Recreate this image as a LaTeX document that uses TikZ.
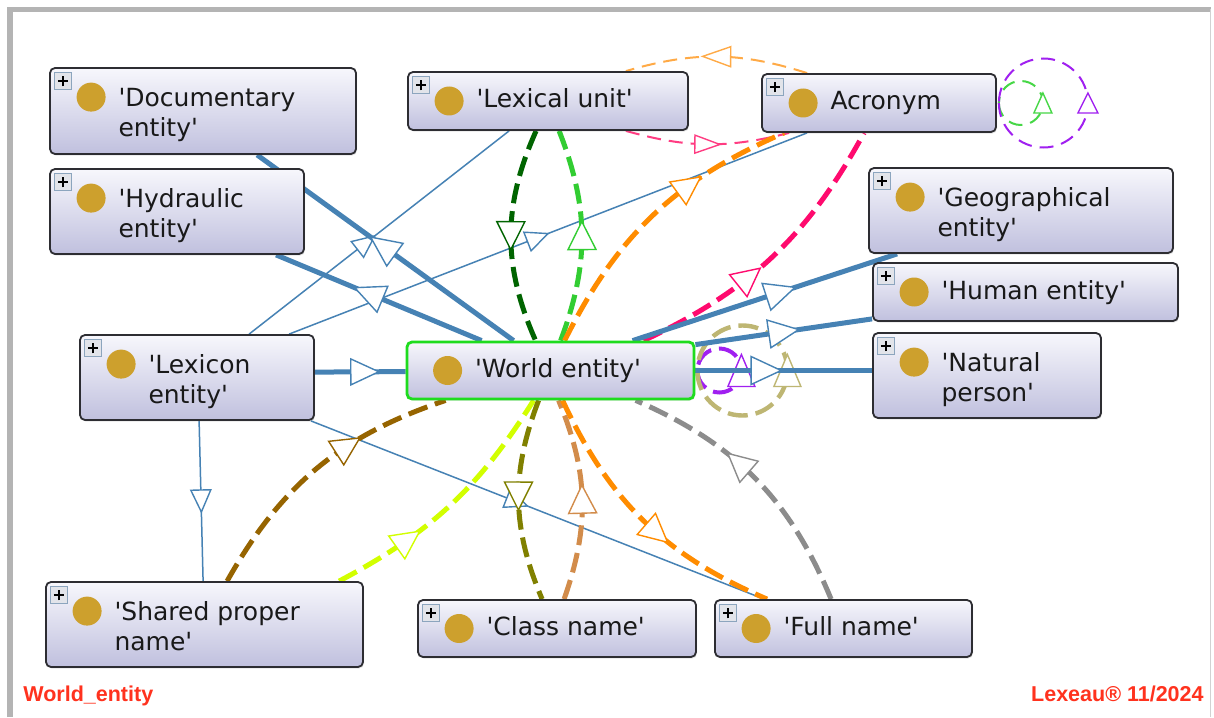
\documentclass[tikz,border=0pt]{standalone}
\usepackage{fontspec}
\setmainfont{DejaVu Sans}
\newfontfamily\arialfont{Liberation Sans}
\usetikzlibrary{calc,fit,shadows,decorations.markings}
\pgfdeclarelayer{back}
\pgfdeclarelayer{bg}
\pgfsetlayers{back,bg,main}

\definecolor{sblue}{RGB}{70,130,180}
\definecolor{boxtop}{RGB}{247,247,252}
\definecolor{boxbot}{RGB}{192,192,222}
\definecolor{boxline}{RGB}{45,45,50}
\definecolor{dotgold}{RGB}{205,160,45}
\definecolor{dkgreen}{RGB}{0,100,0}
\definecolor{ltgreen}{RGB}{50,205,50}
\definecolor{orng}{RGB}{255,140,0}
\definecolor{dpink}{RGB}{255,10,110}
\definecolor{lorng}{RGB}{255,170,70}
\definecolor{lpink}{RGB}{255,60,130}
\definecolor{lgreen}{RGB}{70,215,70}
\definecolor{purp}{RGB}{160,32,240}
\definecolor{khak}{RGB}{190,182,115}
\definecolor{brwn}{RGB}{150,100,0}
\definecolor{ygreen}{RGB}{210,255,0}
\definecolor{olv}{RGB}{128,128,0}
\definecolor{tann}{RGB}{210,140,75}
\definecolor{gry}{RGB}{140,140,140}
\definecolor{redlbl}{RGB}{255,50,30}
\definecolor{framegray}{RGB}{180,180,180}
\definecolor{focusgreen}{RGB}{30,220,30}
\definecolor{txt}{RGB}{25,25,25}

\newcommand\q{\textquotesingle}

\tikzset{
  clsbox/.style={draw=boxline, line width=0.9pt, rounded corners=2.5pt,
    top color=boxtop, bottom color=boxbot, inner sep=0pt,
    drop shadow={opacity=0.2, shadow xshift=0.5pt, shadow yshift=-0.8pt}},
  focusbox/.style={clsbox, draw=focusgreen, line width=1.4pt},
  plusicon/.style={draw={rgb,255:red,140;green,165;blue,190}, line width=0.5pt,
    fill={rgb,255:red,226;green,228;blue,234}, minimum size=8.5pt, inner sep=0pt,
    path picture={\draw[black, line width=0.8pt]
      ([xshift=-2.6pt]path picture bounding box.center) -- ([xshift=2.6pt]path picture bounding box.center)
      ([yshift=-2.6pt]path picture bounding box.center) -- ([yshift=2.6pt]path picture bounding box.center);}},
  dot/.style={circle, fill=dotgold, minimum size=14.5pt, inner sep=0pt},
  lbl/.style={anchor=base west, inner sep=0pt, text=txt, font=\fontsize{12.5pt}{15pt}\selectfont},
  tri/.style n args={4}{postaction={decorate, decoration={markings,
    mark=at position #1 with {\draw[solid, line width=0.7pt, fill=white, draw=#4, line join=miter]
      (-#2/2,-#3/2) -- (#2/2,0) -- (-#2/2,#3/2) -- cycle;}}}},
  thickisa/.style={draw=sblue, line width=2.5pt},
  thinisa/.style={draw=sblue, line width=0.75pt},
  prop/.style={draw=#1, line width=2.5pt, dash pattern=on 10pt off 4pt},
  thinprop/.style={draw=#1, line width=1pt, dash pattern=on 7pt off 4pt},
  redtag/.style={inner sep=0pt, text=redlbl, font=\arialfont\bfseries\fontsize{10.75pt}{12pt}\selectfont}
}

\newcommand\clsone[6]{%
  \node[clsbox, fit={(#2,#3)(#4,#5)}] (#1) {};
  \node[plusicon] (#1-p) at ($(#1.north west)+(14,14)$) {};
  \node[dot] (#1-d) at ($(#1.west)+(42,0)$) {};
  \node[lbl] (#1-t) at ($(#1.west)+(69,7)$) {#6};
}
\newcommand\clstwo[7]{%
  \node[clsbox, fit={(#2,#3)(#4,#5)}] (#1) {};
  \node[plusicon] (#1-p) at ($(#1.north west)+(14,14)$) {};
  \node[dot] (#1-d) at ($(#1.north west)+(42,30)$) {};
  \node[lbl] (#1-t) at ($(#1.north west)+(69,39)$) {#6};
  \node[lbl] (#1-u) at ($(#1.north west)+(69,69)$) {#7};
}

\begin{document}
\begin{tikzpicture}[x=0.5pt,y=-0.5pt]
\useasboundingbox (0,0) rectangle (1214,717);
\begin{pgfonlayer}{back}
\fill[white] (0,0) rectangle (1214,717);
\draw[framegray, line width=2.6pt] (10,717) -- (10,9.5) -- (1211,9.5);
\draw[framegray!60, line width=0.5pt] (1210,9.5) -- (1210,717);
\end{pgfonlayer}

% class boxes
\clstwo{doc}{50}{68}{356}{154}{\q Documentary}{entity\q}
\clstwo{hyd}{50}{169}{304}{254}{\q Hydraulic}{entity\q}
\clsone{lexu}{408}{72}{688}{130}{\q Lexical unit\q}
\clsone{acr}{762}{74}{996}{132}{Acronym}
\clstwo{geo}{869}{168}{1173}{253}{\q Geographical}{entity\q}
\clsone{hum}{873}{263}{1178}{321}{\q Human entity\q}
\clstwo{nat}{873}{333}{1101}{418}{\q Natural}{person\q}
\clstwo{lex}{80}{335}{314}{420}{\q Lexicon}{entity\q}
\clstwo{spn}{46}{582}{363}{667}{\q Shared proper}{name\q}
\clsone{cls}{418}{600}{696}{657}{\q Class name\q}
\clsone{full}{715}{600}{972}{657}{\q Full name\q}
\node[focusbox, fit={(407,342)(694,399)}] (world) {};
\node[dot] (world-d) at ($(world.west)+(42,0)$) {};
\node[lbl] (world-t) at ($(world.west)+(69,7)$) {\q World entity\q};

% footer labels
\node[redtag, anchor=base west] (tagl) at (23,701) {World\_entity};
\node[redtag, anchor=base east] (tagr) at (1204,701) {Lexeau® 11/2024};

\begin{pgfonlayer}{bg}
% thin is-a edges
\draw[thinisa, tri={0.45}{11pt}{10pt}{sblue}] ($(lex.north west)+(170,0)$) -- ($(lexu.south west)+(102,0)$);
\draw[thinisa, tri={0.48}{11pt}{10pt}{sblue}] ($(lex.north west)+(210,0)$) -- ($(acr.south west)+(46,0)$);
\draw[thinisa, tri={0.5}{11pt}{10pt}{sblue}] ($(lex.south west)+(120,0)$) -- ($(spn.north west)+(158,0)$);
\draw[thinisa, tri={0.455}{11pt}{10pt}{sblue}] ($(lex.south east)+(-4,0)$) -- ($(full.north west)+(50,0)$);

% object property edges
\draw[thinprop=lorng, tri={0.5}{14pt}{10pt}{lorng}] ($(acr.north west)+(46,0)$) to[bend right=17] ($(lexu.north east)+(-63,0)$);
\draw[thinprop=lpink, tri={0.5}{12.5pt}{9pt}{lpink}] ($(lexu.south east)+(-63,0)$) to[bend right=15] ($(acr.south west)+(28,0)$);
\draw[prop=dkgreen, tri={0.5}{14pt}{14pt}{dkgreen}] ($(lexu.south west)+(129,0)$) to[bend right=24] ($(world.north west)+(130,0)$);
\draw[prop=ltgreen, tri={0.5}{14pt}{14pt}{ltgreen}] ($(world.north west)+(155,0)$) to[bend right=21] ($(lexu.south west)+(152,0)$);
\draw[prop=orng, tri={0.65}{14pt}{14pt}{orng}] ($(world.north west)+(159,0)$) to[bend left=20] ($(acr.south west)+(23,0)$);
\draw[prop=dpink, tri={0.4}{14pt}{14pt}{dpink}] ($(world.north west)+(238,0)$) to[bend right=18] ($(acr.south west)+(103,0)$);

\draw[prop=brwn, tri={0.63}{14pt}{14pt}{brwn}] ($(spn.north west)+(182,0)$) to[bend left=21] ($(world.south west)+(40,0)$);
\draw[prop=ygreen, tri={0.3}{14pt}{14pt}{ygreen}] ($(spn.north west)+(294,0)$) to[bend right=15] ($(world.south west)+(128,0)$);
\draw[prop=olv, tri={0.48}{14pt}{14pt}{olv}] ($(world.south west)+(133,0)$) to[bend right=22] ($(cls.north west)+(125,0)$);
\draw[prop=tann, tri={0.5}{14pt}{14pt}{tann}] ($(cls.north west)+(147,0)$) to[bend right=21] ($(world.south west)+(153,0)$);
\draw[prop=orng, tri={0.56}{14pt}{14pt}{orng}] ($(world.south west)+(157,0)$) to[bend right=21] ($(full.north west)+(53,0)$);
\draw[prop=gry, tri={0.58}{14pt}{14pt}{gry}] ($(full.north west)+(117,0)$) to[bend right=22] ($(world.south west)+(230,0)$);

% self loops
\draw[thinprop=lgreen, tri={0.5}{10pt}{9pt}{lgreen}] ($(acr.east)+(2,0)$) arc[start angle=180, end angle=540, radius=11pt];
\draw[thinprop=purp, tri={0.5}{10pt}{10pt}{purp}] ($(acr.east)+(2,0)$) arc[start angle=180, end angle=540, radius=22.25pt];
\draw[prop=purp, line width=2pt, tri={0.5}{16pt}{13.5pt}{purp}] ($(world.east)+(2,0)$) arc[start angle=180, end angle=540, radius=11pt];
\draw[prop=khak, line width=2.2pt, tri={0.5}{16pt}{13.5pt}{khak}] ($(world.east)+(2,0)$) arc[start angle=180, end angle=540, radius=22.5pt];

% thick is-a edges
\draw[thickisa, tri={0.55}{14pt}{13pt}{sblue}] ($(lex.north east)+(0,38)$) -- ($(world.north west)+(0,31)$);
\draw[thickisa, tri={0.51}{15pt}{14pt}{sblue}] ($(world.north west)+(108,0)$) -- ($(doc.south west)+(208,0)$);
\draw[thickisa, tri={0.55}{15pt}{14pt}{sblue}] ($(world.north west)+(76,0)$) -- ($(hyd.south west)+(227,0)$);
\draw[thickisa, tri={0.56}{15pt}{14pt}{sblue}] ($(world.north west)+(227,0)$) -- ($(geo.south west)+(29,0)$);
\draw[thickisa, tri={0.5}{15pt}{14pt}{sblue}] ($(world.north east)+(0,4)$) -- ($(hum.south west)+(0,-3)$);
\draw[thickisa, tri={0.4}{15pt}{14pt}{sblue}] (world.east) -- (world.east -| nat.west);
\end{pgfonlayer}
\end{tikzpicture}
\end{document}
